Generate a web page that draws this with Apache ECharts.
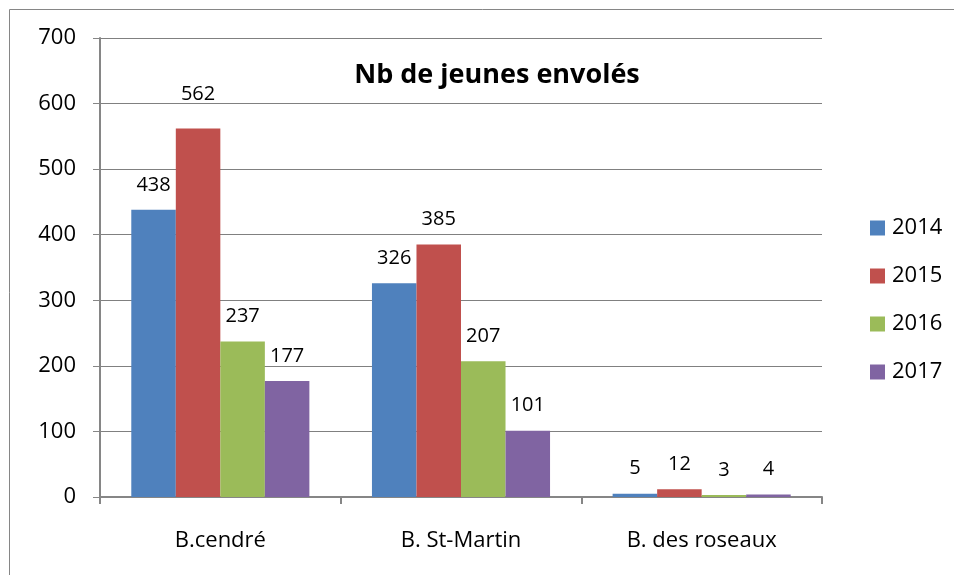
<!DOCTYPE html>
<html>
<head>
<meta charset="utf-8">
<script src="https://cdn.jsdelivr.net/npm/echarts@6/dist/echarts.min.js"></script>
<style>
  html, body { margin: 0; padding: 0; background: #fff; }
  #main { width: 954px; height: 575px; }
</style>
</head>
<body>
<div id="main"></div>
<script>
// chart data
var categories = ['B.cendré', 'B. St-Martin', 'B. des roseaux'];
var years = ['2014', '2015', '2016', '2017'];
var v2014 = [438, 326, 5];
var v2015 = [562, 385, 12];
var v2016 = [237, 207, 3];
var v2017 = [177, 101, 4];
var yTicks = [0, 100, 200, 300, 400, 500, 600, 700];

var colors = ['#4F81BD', '#C0504D', '#9BBB59', '#8064A2'];
var font = 'Open Sans';

var myChart = echarts.init(document.getElementById('main'));

function makeSeries(name, values, color) {
    return {
        name: name,
        type: 'bar',
        barGap: 0,
        barCategoryGap: '26%',
        itemStyle: { color: color },
        label: {
            show: true,
            position: 'top',
            distance: 15,
            color: '#000',
            fontFamily: font,
            fontSize: 20
        },
        data: values.map(function (v) {
            // the 562 label sits a bit higher in the original
            if (v === 562) return { value: v, label: { distance: 24 } };
            return v;
        })
    };
}

var option = {
    animation: false,
    textStyle: { fontFamily: font },
    title: {
        text: 'Nb de jeunes envolés',
        left: 492,
        textAlign: 'center',
        top: 57,
        textStyle: { fontFamily: font, fontWeight: 'bold', fontSize: 27, color: '#000' }
    },
    legend: {
        orient: 'vertical',
        left: 865,
        top: 212,
        itemWidth: 15,
        itemHeight: 15,
        itemGap: 26,
        icon: 'rect',
        data: years,
        textStyle: { fontFamily: font, fontSize: 22, color: '#000', lineHeight: 22, padding: [0, 0, 0, 2] }
    },
    grid: { left: 100, right: 132, top: 38, bottom: 78 },
    xAxis: {
        type: 'category',
        data: categories,
        axisLine: { lineStyle: { color: '#868686', width: 2 } },
        axisTick: { show: true, length: 7, alignWithLabel: false, lineStyle: { color: '#868686', width: 2 } },
        axisLabel: { color: '#000', fontFamily: font, fontSize: 22, margin: 33 }
    },
    yAxis: {
        type: 'value',
        min: yTicks[0],
        max: yTicks[yTicks.length - 1],
        interval: 100,
        axisLine: { show: true, lineStyle: { color: '#868686', width: 2 } },
        axisTick: { show: true, length: 7, lineStyle: { color: '#868686', width: 1 } },
        axisLabel: { color: '#000', fontFamily: font, fontSize: 22, margin: 24 },
        splitLine: { lineStyle: { color: '#808080', width: 1 } }
    },
    graphic: [{
        type: 'rect',
        shape: { x: 9.5, y: 9.5, width: 960, height: 600 },
        style: { fill: 'none', stroke: '#868686', lineWidth: 1 },
        silent: true
    }],
    series: [
        makeSeries(years[0], v2014, colors[0]),
        makeSeries(years[1], v2015, colors[1]),
        makeSeries(years[2], v2016, colors[2]),
        makeSeries(years[3], v2017, colors[3])
    ]
};

myChart.setOption(option);
</script>
</body>
</html>
